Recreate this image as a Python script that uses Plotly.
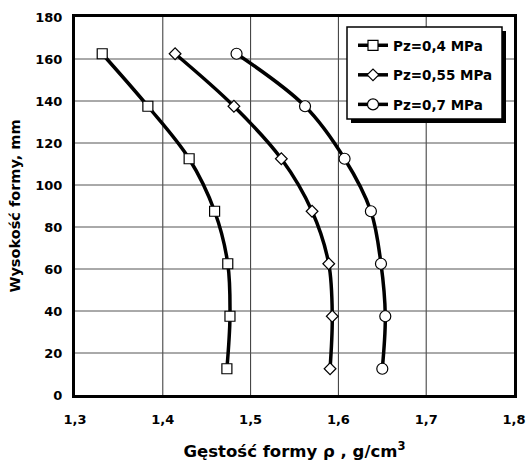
import plotly.graph_objects as go

heights = [12.5, 37.5, 62.5, 87.5, 112.5, 137.5, 162.5]
rho_04 = [1.473, 1.4765, 1.474, 1.459, 1.430, 1.383, 1.331]
rho_055 = [1.5905, 1.593, 1.589, 1.570, 1.535, 1.481, 1.414]
rho_07 = [1.650, 1.6534, 1.6485, 1.637, 1.607, 1.562, 1.484]
series_names = ["Pz=0,4 MPa", "Pz=0,55 MPa", "Pz=0,7 MPa"]
x_ticks = [1.3, 1.4, 1.5, 1.6, 1.7, 1.8]
y_ticks = [0, 20, 40, 60, 80, 100, 120, 140, 160, 180]

FONT = "DejaVu Sans, sans-serif"

fig = go.Figure()
specs = [(rho_04, "square", 10), (rho_055, "diamond", 9), (rho_07, "circle", 11)]
for i, (vals, sym, sz) in enumerate(specs):
    fig.add_trace(go.Scatter(
        x=vals, y=heights, mode="lines+markers", name=series_names[i],
        legendgroup=f"g{i}",
        line=dict(color="black", width=3.5, shape="spline", smoothing=1),
        marker=dict(symbol=sym, size=sz, color="white",
                    line=dict(color="black", width=1.2)),
    ))

W, H = 526, 461
ml, mr, mt, mb = 75, 12, 17, 66
pw, ph = W - ml - mr, H - mt - mb
def px2paper_x(px):
    return (px - ml) / pw
def px2paper_y(py):
    return (H - mb - py) / ph

# grid lines at the tick values
for xv in x_ticks[1:-1]:
    fig.add_shape(type="line", xref="x", yref="paper", x0=xv, x1=xv, y0=0, y1=1,
                  line=dict(color="#333333", width=1), layer="below")
for yv in y_ticks[1:-1]:
    fig.add_shape(type="line", xref="paper", yref="y", x0=0, x1=1, y0=yv, y1=yv,
                  line=dict(color="#555555", width=1), layer="below")

# legend frame with drop shadow
L, T, R, B = 347, 27, 502, 119
fig.add_shape(type="rect", xref="paper", yref="paper",
              x0=px2paper_x(L + 4), x1=px2paper_x(R + 4),
              y0=px2paper_y(B + 4), y1=px2paper_y(T + 4),
              fillcolor="black", line=dict(width=0), layer="above")
fig.add_shape(type="rect", xref="paper", yref="paper",
              x0=px2paper_x(L), x1=px2paper_x(R),
              y0=px2paper_y(B), y1=px2paper_y(T),
              fillcolor="white", line=dict(width=1.5, color="black"), layer="above")

fig.update_layout(
    width=W, height=H,
    margin=dict(l=ml, r=mr, t=mt, b=mb, autoexpand=False),
    paper_bgcolor="white", plot_bgcolor="white",
    separators=", ",
    font=dict(family=FONT, color="black", size=13),
    showlegend=True,
    legend=dict(
        x=px2paper_x(353), y=px2paper_y(30), xanchor="left", yanchor="top",
        bgcolor="rgba(0,0,0,0)", borderwidth=0,
        font=dict(family=FONT, size=13.5, color="black", weight="bold"),
        tracegroupgap=9, itemwidth=30,
    ),
    xaxis=dict(
        range=[1.3, 1.8], tickmode="array", tickvals=x_ticks, tickformat=".1f",
        showgrid=False, automargin=False,
        showline=True, linecolor="black", linewidth=3, mirror=True,
        ticks="outside", ticklen=10, tickcolor="rgba(0,0,0,0)", zeroline=False,
        tickfont=dict(family=FONT, size=13, weight="bold"),
        title=dict(text="Gęstość formy ρ , g/cm<sup>3</sup>", standoff=20,
                   font=dict(family=FONT, size=16.5, weight="bold")),
    ),
    yaxis=dict(
        range=[0, 180], tickmode="array", tickvals=y_ticks,
        showgrid=False, automargin=False,
        showline=True, linecolor="black", linewidth=3, mirror=True,
        ticks="outside", ticklen=7, tickcolor="rgba(0,0,0,0)", zeroline=False,
        tickfont=dict(family=FONT, size=13, weight="bold"),
        title=dict(text="Wysokość formy, mm", standoff=12,
                   font=dict(family=FONT, size=14.5, weight="bold")),
    ),
)

fig.write_html("out.html")
